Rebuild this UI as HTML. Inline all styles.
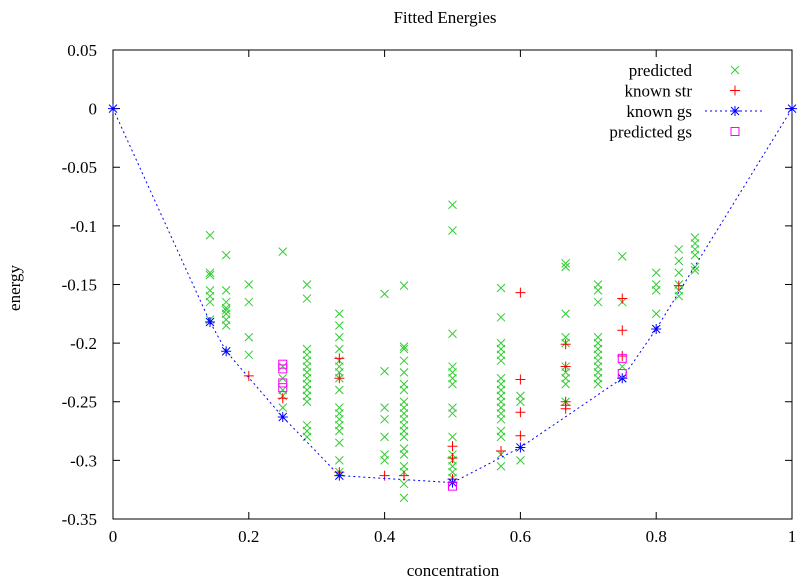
<!DOCTYPE html>
<html><head><meta charset="utf-8"><style>
body{margin:0;background:#fff}
svg text{font-family:"Liberation Serif",serif;font-size:17px;fill:#000}
</style></head><body>
<svg id="chart" width="800" height="583" xmlns="http://www.w3.org/2000/svg">
<text x="445" y="23" text-anchor="middle">Fitted Energies</text>
<text x="453" y="576" text-anchor="middle">concentration</text>
<text transform="translate(20,288) rotate(-90)" text-anchor="middle">energy</text>
<rect x="113" y="50" width="679" height="469" fill="none" stroke="#000"/>
<g id="axes"></g><g id="marks"></g><g id="legend"></g>
</svg>
<script>
const xTicks=[0,0.2,0.4,0.6,0.8,1];
const xTickLabels=["0","0.2","0.4","0.6","0.8","1"];
const yTicks=[0.05,0,-0.05,-0.1,-0.15,-0.2,-0.25,-0.3,-0.35];
const yTickLabels=["0.05","0","-0.05","-0.1","-0.15","-0.2","-0.25","-0.3","-0.35"];
const predictedX=[1/7,1/6,0.2,0.25,2/7,1/3,0.4,3/7,0.5,4/7,0.6,2/3,5/7,0.75,0.8,5/6,6/7];
const predictedY=[
[-0.108,-0.14,-0.142,-0.155,-0.16,-0.165,-0.18],
[-0.125,-0.155,-0.165,-0.17,-0.172,-0.175,-0.18,-0.185,-0.207],
[-0.15,-0.165,-0.195,-0.21],
[-0.122,-0.22,-0.23,-0.24,-0.245,-0.255],
[-0.15,-0.162,-0.205,-0.21,-0.215,-0.22,-0.225,-0.23,-0.235,-0.24,-0.245,-0.25,-0.27,-0.28,-0.275],
[-0.175,-0.185,-0.195,-0.205,-0.215,-0.22,-0.225,-0.23,-0.24,-0.255,-0.26,-0.265,-0.27,-0.275,-0.285,-0.3,-0.31],
[-0.158,-0.224,-0.255,-0.265,-0.28,-0.295,-0.3],
[-0.151,-0.203,-0.205,-0.215,-0.225,-0.235,-0.24,-0.25,-0.255,-0.26,-0.265,-0.27,-0.275,-0.28,-0.29,-0.295,-0.305,-0.31,-0.32,-0.332],
[-0.082,-0.104,-0.192,-0.22,-0.225,-0.23,-0.235,-0.255,-0.26,-0.28,-0.295,-0.3,-0.305,-0.31,-0.315],
[-0.153,-0.178,-0.2,-0.205,-0.21,-0.215,-0.23,-0.235,-0.24,-0.245,-0.25,-0.255,-0.26,-0.265,-0.275,-0.28,-0.295,-0.305],
[-0.245,-0.25,-0.3],
[-0.132,-0.135,-0.175,-0.195,-0.2,-0.22,-0.225,-0.23,-0.235,-0.25],
[-0.15,-0.155,-0.165,-0.195,-0.2,-0.205,-0.21,-0.215,-0.22,-0.225,-0.23,-0.235],
[-0.126,-0.165,-0.22,-0.23],
[-0.14,-0.15,-0.155,-0.175],
[-0.12,-0.13,-0.14,-0.15,-0.155,-0.16],
[-0.11,-0.115,-0.12,-0.125,-0.135,-0.138]];
const knownStrX=[0.2,0.25,1/3,1/3,1/3,0.4,3/7,0.5,0.5,0.5,4/7,0.6,0.6,0.6,0.6,2/3,2/3,2/3,2/3,2/3,0.75,0.75,0.75,5/6];
const knownStrY=[-0.228,-0.247,-0.213,-0.23,-0.31,-0.313,-0.313,-0.288,-0.298,-0.316,-0.292,-0.157,-0.231,-0.259,-0.279,-0.201,-0.22,-0.25,-0.253,-0.256,-0.162,-0.189,-0.211,-0.151];
const gsX=[0,1/7,1/6,0.25,1/3,0.5,0.6,0.75,0.8,1];
const gsY=[0,-0.182,-0.207,-0.263,-0.313,-0.319,-0.289,-0.23,-0.188,0];
const pgsX=[0.25,0.25,0.25,0.25,0.5,0.75,0.75];
const pgsY=[-0.218,-0.222,-0.234,-0.238,-0.322,-0.213,-0.226];

const NS="http://www.w3.org/2000/svg";
const X=v=>113+v*679;
const Y=v=>108.6-v*1172.5;
function mk(p,tag,a){const e=document.createElementNS(NS,tag);for(const k in a)e.setAttribute(k,a[k]);p.appendChild(e);return e;}
const axes=document.getElementById('axes'),marks=document.getElementById('marks'),leg=document.getElementById('legend');
xTicks.forEach((t,i)=>{const x=X(t);
 const l=mk(axes,'path',{d:`M${x},519v-7M${x},50v7`,stroke:'#000'});
 
 
 const tx=mk(axes,'text',{x:x,y:542,'text-anchor':'middle'});tx.textContent=xTickLabels[i];
 
 });
yTicks.forEach((t,i)=>{const y=Y(t);
 const l=mk(axes,'path',{d:`M113,${y}h7M792,${y}h-7`,stroke:'#000'});
 
 
 const tx=mk(axes,'text',{x:97,y:y+6,'text-anchor':'end'});tx.textContent=yTickLabels[i];
 
 });
function cross(g,x,y){return mk(g,'path',{d:`M${x-4},${y-4}l8,8M${x-4},${y+4}l8,-8`,stroke:'#3c3',fill:'none','stroke-width':1});}
function plus(g,x,y){return mk(g,'path',{d:`M${x-5},${y}h10M${x},${y-5}v10`,stroke:'#f00',fill:'none'});}
function star(g,x,y){return mk(g,'path',{d:`M${x-5},${y}h10M${x},${y-5}v10M${x-4},${y-4}l8,8M${x-4},${y+4}l8,-8`,stroke:'#00f',fill:'none'});}
function box(g,x,y){return mk(g,'rect',{x:x-4,y:y-4,width:8,height:8,stroke:'#f0f',fill:'none'});}
predictedX.forEach((px,i)=>predictedY[i].forEach(v=>{const m=cross(marks,X(px),Y(v));
 
 }));
knownStrX.forEach((px,i)=>{const m=plus(marks,X(px),Y(knownStrY[i]));
 
 });
const line=mk(marks,'polyline',{points:gsX.map((x,i)=>X(x)+','+Y(gsY[i])).join(' '),fill:'none',stroke:'#00f','stroke-dasharray':'2,3'});


gsX.forEach((px,i)=>{const m=star(marks,X(px),Y(gsY[i]));
 
 });
pgsX.forEach((px,i)=>{const m=box(marks,X(px),Y(pgsY[i]));
 
 });
const labels=["predicted","known str","known gs","predicted gs"];
const fns=[cross,plus,star,box];
labels.forEach((lb,i)=>{const y=70+i*20.5;
 const t=mk(leg,'text',{x:692,y:y+6,'text-anchor':'end'});t.textContent=lb;
 
 
 if(i==2){const l=mk(leg,'path',{d:`M705,${y}h57`,stroke:'#00f','stroke-dasharray':'2,3'});
  
  }
 const s=fns[i](leg,735,y);
 
 });
</script>
</body></html>
